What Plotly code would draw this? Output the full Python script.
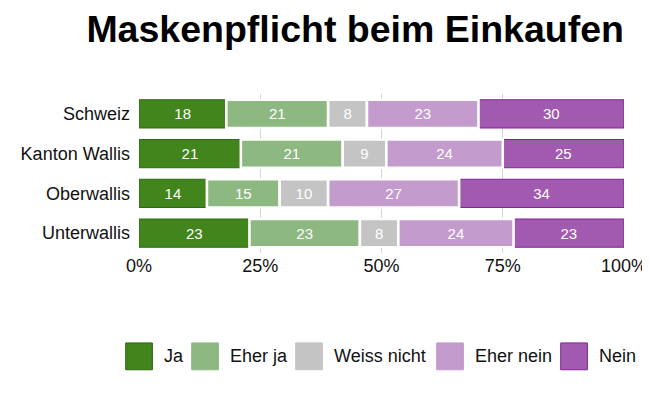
import plotly.graph_objects as go

# ---- data ----
regions = ["Schweiz", "Kanton Wallis", "Oberwallis", "Unterwallis"]
answers = ["Ja", "Eher ja", "Weiss nicht", "Eher nein", "Nein"]
ja = [18, 21, 14, 23]
eher_ja = [21, 21, 15, 23]
weiss_nicht = [8, 9, 10, 8]
eher_nein = [23, 24, 27, 24]
nein = [30, 25, 34, 23]
x_ticks = [0, 25, 50, 75, 100]
x_tick_labels = ["0%", "25%", "50%", "75%", "100%"]

series = [ja, eher_ja, weiss_nicht, eher_nein, nein]

# ---- styles ----
fills = ["#41851c", "#8db882", "#c4c4c4", "#c39bcd", "#a25ab1"]
borders = ["#2c6a10", "#ffffff", "#ffffff", "#ffffff", "#7f2591"]
border_w = [1, 2.6, 2.6, 2.6, 1]
draw_order = [0, 4, 1, 2, 3]
FONT = "Liberation Sans, Arial, sans-serif"

totals = [sum(s[i] for s in series) for i in range(len(regions))]
shares = [[v / t * 100 for v, t in zip(s, totals)] for s in series]
bases = []
for k in range(len(series)):
    bases.append([sum(shares[j][i] for j in range(k)) for i in range(len(regions))])

fig = go.Figure()
for k in draw_order:
    fig.add_trace(go.Bar(
        y=regions, x=shares[k], base=bases[k], orientation="h",
        name=answers[k], text=series[k], texttemplate="%{text}",
        textposition="inside", insidetextanchor="middle", textangle=0,
        constraintext="none",
        textfont=dict(family=FONT, size=15, color="white"),
        marker=dict(color=fills[k], line=dict(color=borders[k], width=border_w[k])),
        showlegend=False, hoverinfo="skip",
    ))

# ---- geometry: page body has an 8px margin, so figure coords = screen - 8 ----
OFF = 8
W, H = 650 - OFF, 396 - OFF
plot_left, plot_right, plot_top, plot_bottom = 139, 624, 93.5, 253.5  # screen px
L = plot_left - OFF
R = W - (plot_right - OFF)
T = plot_top - OFF
B = H - (plot_bottom - OFF)
pw, ph = plot_right - plot_left, plot_bottom - plot_top

def px_x(p):
    return (p - plot_left) / pw

def px_y(p):
    return (plot_bottom - p) / ph

# ---- manual legend ----
legend_sq_x = [125.7, 191.7, 295.7, 436.7, 560.7]
sq_w, sq_top, sq_bot = 26.7, 344, 371
shapes = []
annotations = []
for k, name in enumerate(answers):
    x0 = legend_sq_x[k]
    shapes.append(dict(type="rect", xref="paper", yref="paper",
                       x0=px_x(x0), x1=px_x(x0 + sq_w),
                       y0=px_y(sq_bot), y1=px_y(sq_top),
                       fillcolor=fills[k],
                       line=dict(color=borders[k] if borders[k] != "#ffffff" else fills[k], width=1)))
    annotations.append(dict(xref="paper", yref="paper", x=px_x(x0 + sq_w + 10),
                            y=px_y((sq_top + sq_bot) / 2), xanchor="left", yanchor="middle",
                            text=name, showarrow=False,
                            font=dict(family=FONT, size=18, color="#111")))

fig.update_layout(
    width=W, height=H,
    margin=dict(l=L, r=R, t=T, b=B, pad=0, autoexpand=False),
    barmode="overlay", bargap=0.29,
    paper_bgcolor="white", plot_bgcolor="white",
    title=dict(text="<b>Maskenpflicht beim Einkaufen</b>", xref="container",
               x=(624 - OFF) / W, xanchor="right",
               yref="container", y=1 - (29 - OFF) / H, yanchor="middle",
               font=dict(family=FONT, size=37.5, color="#000")),
    xaxis=dict(range=[0, 100], tickvals=x_ticks, ticktext=x_tick_labels,
               showgrid=True, gridcolor="#d4d4d4", gridwidth=1, zeroline=False,
               showline=False, ticks="",
               tickfont=dict(family=FONT, size=18, color="#111")),
    yaxis=dict(categoryorder="array", categoryarray=regions, autorange="reversed",
               showgrid=False, zeroline=False, showline=False, ticks="",
               ticklabelstandoff=8,
               tickfont=dict(family=FONT, size=18, color="#111")),
    shapes=shapes, annotations=annotations,
    showlegend=False,
)

fig.write_html("out.html")
